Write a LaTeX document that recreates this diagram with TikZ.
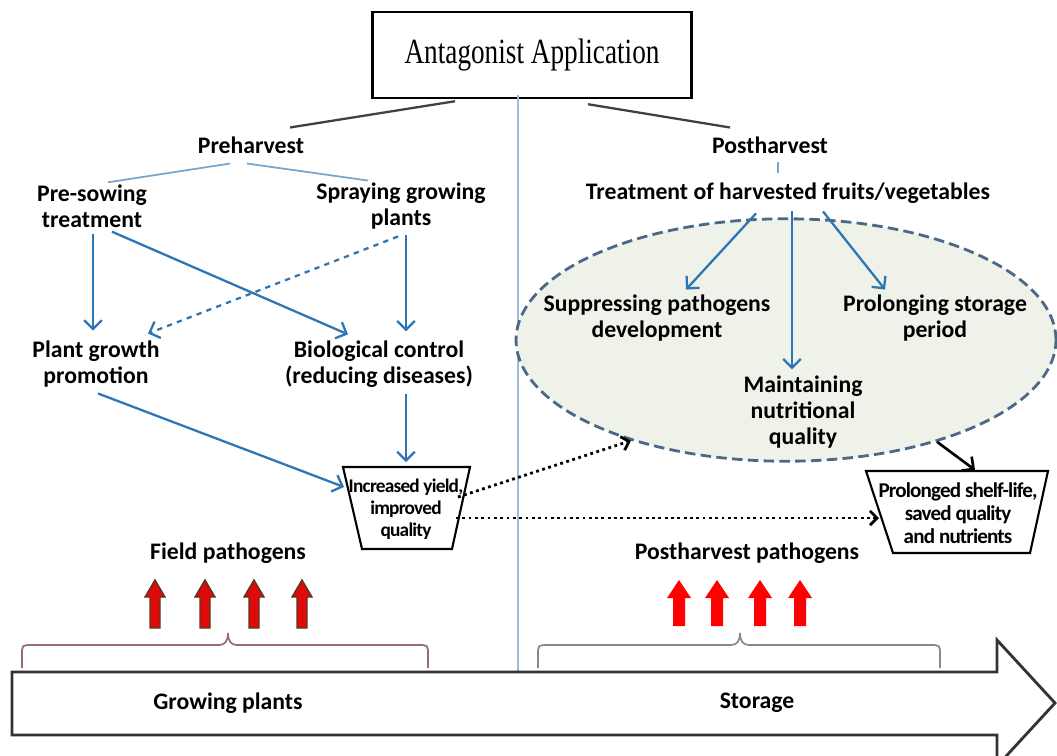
\documentclass[tikz,border=0pt]{standalone}
\usepackage{fontspec}
\setmainfont{Carlito}
\newfontfamily\titlefont{Liberation Serif}
\newfontfamily\tightfont{Carlito}[LetterSpace=-4]
\usetikzlibrary{arrows.meta,shapes.geometric,calc}

\definecolor{flowblue}{RGB}{46,117,182}
\definecolor{linkblue}{RGB}{120,165,205}
\definecolor{zonefill}{RGB}{238,242,233}
\definecolor{zoneline}{RGB}{75,105,135}
\definecolor{divider}{RGB}{160,188,214}
\definecolor{braceA}{RGB}{150,110,110}
\definecolor{braceB}{RGB}{140,135,140}
\definecolor{fieldred}{RGB}{225,10,10}
\definecolor{fieldedge}{RGB}{90,55,35}

\begin{document}
\begin{tikzpicture}[x=0.02cm, y=-0.02cm,
    lbl/.style={font=\fontsize{13.5}{15}\selectfont\bfseries, align=center, inner sep=1pt},
    small/.style={font=\tightfont\fontsize{11}{12.5}\selectfont\bfseries, align=center, inner sep=1pt},
    flow/.style={flowblue, line width=1.3pt, -{Straight Barb[length=5pt,width=10pt]}},
    link/.style={linkblue, line width=1pt},
    dots/.style={black, line width=1.6pt, dotted, -{Straight Barb[length=4pt,width=8pt]}},
    trap/.style={black, line width=1.2pt},
  ]
  \useasboundingbox (0,0) rectangle (1057,755);

  \node[draw, line width=1.4pt, minimum width=6.38cm, minimum height=1.72cm,
        font=\titlefont\fontsize{15.5}{19}\selectfont] (title) at (532,55)
        {\scalebox{1}[1.3]{Antagonist Application}};

  \draw[divider, line width=0.8pt] (518,95) -- (518,672);

  \node[lbl] (pre) at (251,145) {Preharvest};
  \node[lbl] (post) at (770,145) {Postharvest};
  \draw[black!75, line width=1.3pt] ($(title.south)+(-77,2)$) -- ($(pre.north)+(39,-7)$);
  \draw[black!75, line width=1.3pt] ($(title.south)+(56,5)$) -- ($(post.north)+(-40,-7)$);

  % preharvest side
  \node[lbl] (presow) at (92,206) {Pre-sowing\\treatment};
  \node[lbl] (spray) at (401,206) {Spraying growing\\plants};
  \node[lbl] (growth) at (96,364) {Plant growth\\promotion};
  \node[lbl] (bio) at (379,364) {Biological control\\(reducing diseases)};

  \draw[link] ($(pre.south)+(-21,8)$) -- ($(presow.north)+(16,0)$);
  \draw[link] ($(pre.south)+(-4,8)$) -- ($(spray.north)+(-33,0)$);

  \draw[flow] ($(presow.south)+(1,4)$) -- ($(growth.north)+(-3,-8)$);
  \draw[flow] ($(presow.south)+(20,2)$) -- ($(bio.north)+(-31,-4)$);
  \draw[flow] ($(spray.south)+(5,4)$) -- ($(bio.north)+(27,-7)$);
  \draw[flow, dashed] ($(spray.south)+(-3,5)$) -- ($(growth.north)+(52,-5)$);

  \draw[trap] (343,467) -- (470,467) -- (452,549) -- (362,549) -- cycle;
  \node[small] (yield) at (406,509) {Increased yield,\\improved\\quality};
  \coordinate (yieldL) at (344,487);
  \coordinate (yieldT) at (406,462);
  \coordinate (yieldR1) at (458,497);
  \coordinate (yieldR2) at (456,518);

  \draw[flow] ($(growth.south)+(2,4)$) -- (yieldL);
  \draw[flow] ($(bio.south)+(27,4)$) -- (yieldT);

  % postharvest side
  \node[ellipse, draw=zoneline, fill=zonefill, line width=1.6pt, dash pattern=on 6pt off 3pt,
        minimum width=10.8cm, minimum height=4.85cm] (zone) at (786,340) {};
  \node[lbl] (treat) at (788,193) {Treatment of harvested fruits/vegetables};
  \draw[link] ($(post.south)+(8,6)$) -- ($(treat.north)+(-10,-8)$);

  \node[lbl] (supp) at (657,318) {Suppressing pathogens\\development};
  \node[lbl] (prolong) at (935,318) {Prolonging storage\\period};
  \node[lbl] (maint) at (803,412) {Maintaining\\nutritional\\quality};

  \draw[flow] ($(treat.south)+(-32,8)$) -- ($(supp.north)+(29,-3)$);
  \draw[flow] ($(treat.south)+(4,6)$) -- ($(maint.north)+(-11,-4)$);
  \draw[flow] ($(treat.south)+(35,6)$) -- ($(prolong.north)+(-50,-3)$);

  \draw[trap] (866,471) -- (1048,471) -- (1030,553) -- (893,553) -- cycle;
  \node[small, font=\tightfont\fontsize{12}{13}\selectfont\bfseries] (shelf) at (958,513)
        {Prolonged shelf-life,\\saved quality\\and nutrients};
  \coordinate (shelfL) at (879,518);
  \coordinate (shelfT) at (975,470);

  \draw[dots] (yieldR1) -- (zone.213);
  \draw[dots] (yieldR2) -- (shelfL);
  \draw[black, line width=1.5pt, -{Straight Barb[length=5pt,width=10pt]}] (zone.326) -- (shelfT);

  % pathogens
  \node[lbl] (fieldp) at (228,553) {Field pathogens};
  \node[lbl] (postp) at (747,553) {Postharvest pathogens};
  \foreach \x in {155,205,254,302}
  {
    \draw[fill=fieldred, draw=fieldedge, line width=0.8pt] (\x-5,628) -- (\x-5,597) -- (\x-10,597)
      -- (\x,580) -- (\x+10,597) -- (\x+5,597) -- (\x+5,628) -- cycle;
  }
  \foreach \x in {679,717,760,800}
  {
    \fill[red] (\x-6,626) -- (\x-6,598) -- (\x-12,598) -- (\x,580) -- (\x+12,598)
      -- (\x+6,598) -- (\x+6,626) -- cycle;
  }
  \foreach \a/\m/\b/\c in {22/228/428/braceA, 538/740/940/braceB}
  {
    \draw[\c, line width=1pt] (\a,668) -- (\a,655) .. controls (\a,645) .. (\a+10,645)
      -- (\m-9,645) .. controls (\m-3,645) and (\m,641) .. (\m,633)
      .. controls (\m,641) and (\m+3,645) .. (\m+9,645)
      -- (\b-10,645) .. controls (\b,645) .. (\b,655) -- (\b,668);
  }

  % time line
  \draw[line width=1.6pt, black!80, fill=white] (12,672) -- (997,672) -- (997,640) -- (1055,703)
    -- (997,766) -- (997,735) -- (12,735) -- cycle;
  \node[lbl] (grow) at (228,703) {Growing plants};
  \node[lbl] (store) at (757,703) {Storage};
\end{tikzpicture}
\end{document}
